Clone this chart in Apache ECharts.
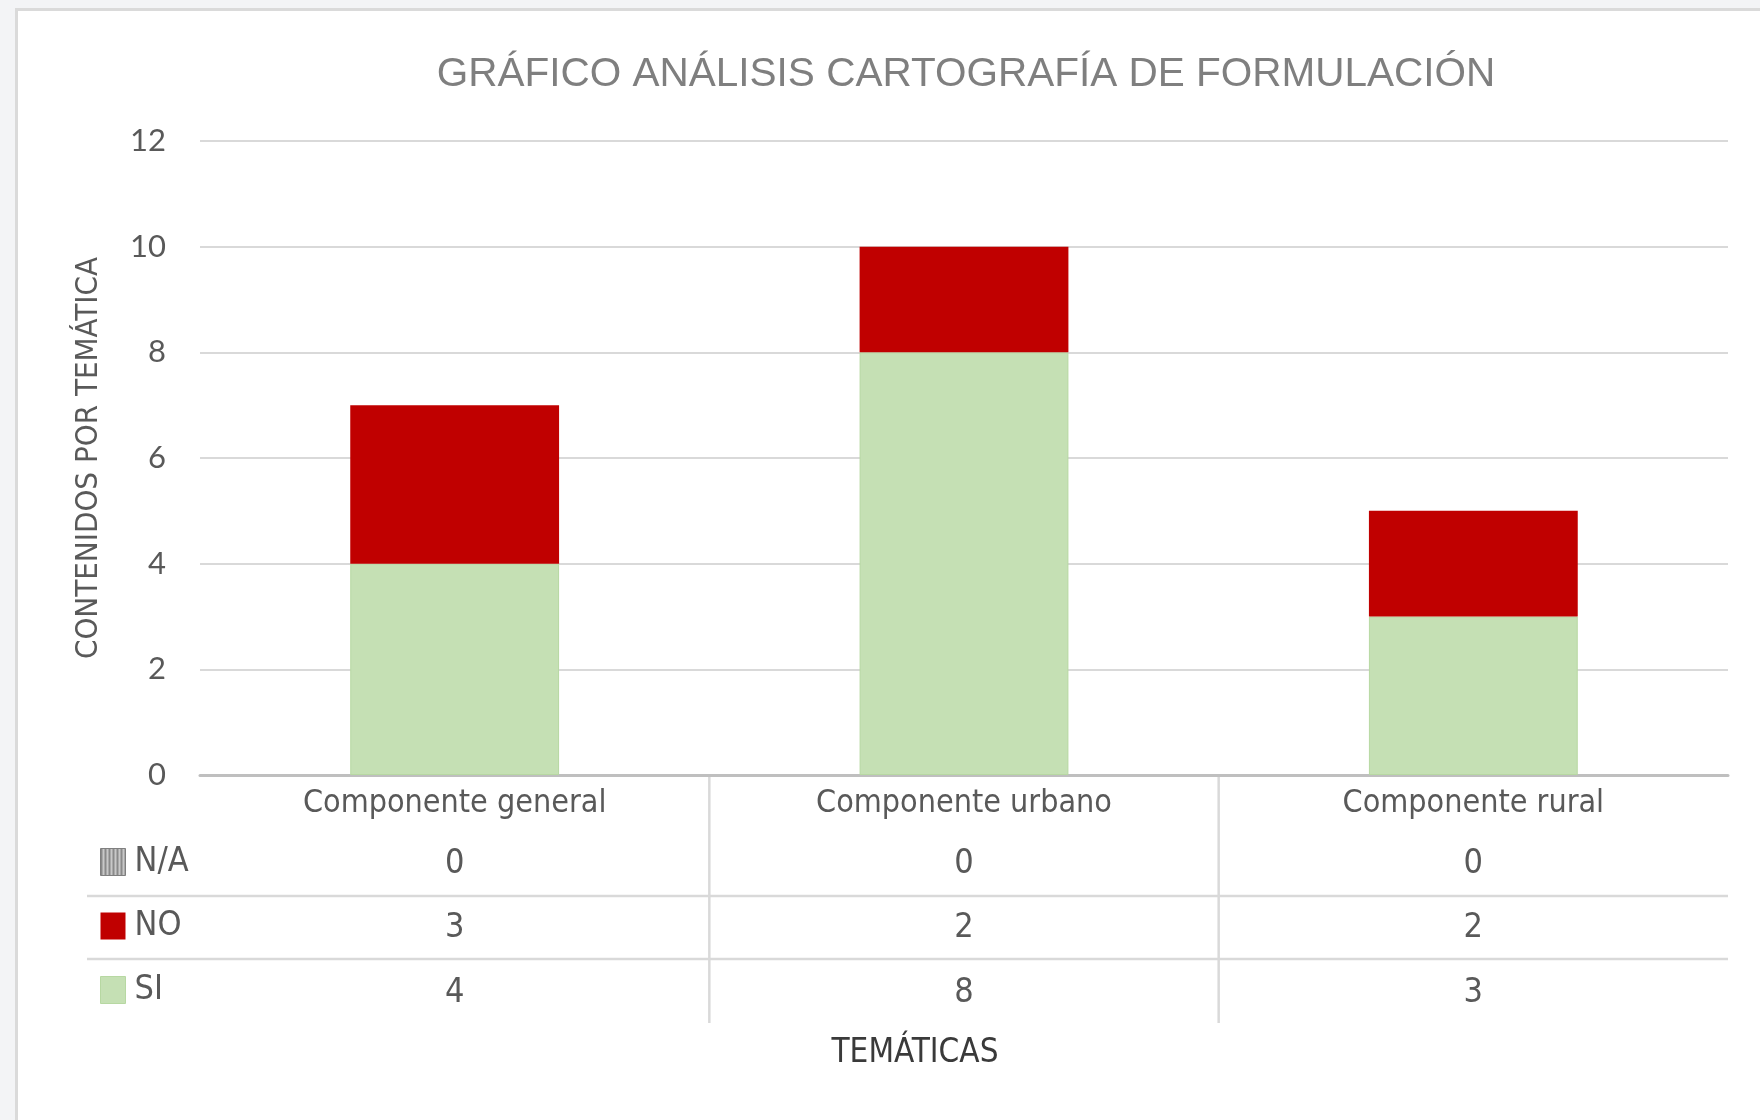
<!DOCTYPE html>
<html>
<head>
<meta charset="utf-8">
<script src="https://cdn.jsdelivr.net/npm/echarts@6/dist/echarts.min.js"></script>
<style>
  html, body { margin:0; padding:0; width:1760px; height:1120px; background:#f3f4f6; overflow:hidden; }
  #frame { position:absolute; left:15px; top:8px; width:1745px; height:1112px; background:#ffffff;
           border-left:3px solid #dadada; border-top:3px solid #dadada; box-sizing:border-box; }
  #chart { position:absolute; left:0; top:0; width:1760px; height:1120px; }
</style>
</head>
<body>
<div id="frame"></div>
<div id="chart"></div>
<script>
// ---- data ----
const titleText = 'GRÁFICO ANÁLISIS CARTOGRAFÍA DE FORMULACIÓN';
const yAxisTitle = 'CONTENIDOS POR TEMÁTICA';
const xAxisTitle = 'TEMÁTICAS';
const categories = ['Componente general', 'Componente urbano', 'Componente rural'];
const seriesNames = ['N/A', 'NO', 'SI'];
const naValues = [0, 0, 0];
const noValues = [3, 2, 2];
const siValues = [4, 8, 3];
const yMin = 0, yMax = 12, yInterval = 2;

// ---- styling ----
const NARROW = "'Liberation Sans Narrow', 'DejaVu Sans Condensed', 'Roboto Condensed', sans-serif";
const TXT = '#595959';

// striped pattern for N/A
const pat = document.createElement('canvas');
pat.width = 4; pat.height = 4;
const pctx = pat.getContext('2d');
pctx.fillStyle = '#c8c8c8'; pctx.fillRect(0, 0, 4, 4);
pctx.fillStyle = '#8a8a8a'; pctx.fillRect(0, 0, 2, 4);

const chart = echarts.init(document.getElementById('chart'), null, { renderer: 'canvas' });

const tableData = categories.map((c, i) => [i, naValues[i], noValues[i], siValues[i]]);

const option = {
  animation: false,
  backgroundColor: 'transparent',
  title: {
    text: titleText,
    left: 961,
    textAlign: 'center',
    top: 49,
    textStyle: { fontFamily: "'Liberation Sans', Arial, sans-serif", fontSize: 40.5, fontWeight: 'normal', color: '#7f7f7f' }
  },
  legend: {
    data: [
      { name: seriesNames[0], itemStyle: { borderColor: '#7f7f7f', borderWidth: 1 } },
      { name: seriesNames[1] },
      { name: seriesNames[2], itemStyle: { borderColor: '#b7d8a2', borderWidth: 1 } }
    ],
    orient: 'vertical',
    icon: 'rect',
    left: 100,
    top: 845,
    itemWidth: 25,
    itemHeight: 27,
    itemGap: 30,
    padding: 0,
    selectedMode: false,
    textStyle: { fontFamily: NARROW, fontSize: 34, color: TXT, padding: [0, 0, 0, 4] }
  },
  grid: { left: 200, right: 32, top: 141, bottom: 345, containLabel: false },
  xAxis: {
    type: 'category',
    data: categories,
    axisLine: { lineStyle: { color: '#bfbfbf', width: 3 } },
    axisTick: { show: false },
    axisLabel: { fontFamily: NARROW, fontSize: 32, color: TXT, margin: 13 },
    name: xAxisTitle,
    nameLocation: 'middle',
    nameGap: 262,
    nameTextStyle: { fontFamily: NARROW, fontSize: 33, color: '#3a3a3a', padding: [0, 98, 0, 0] }
  },
  yAxis: {
    type: 'value',
    min: yMin, max: yMax, interval: yInterval,
    axisLine: { show: false },
    axisTick: { show: false },
    splitLine: { lineStyle: { color: '#d9d9d9', width: 2 } },
    axisLabel: { fontFamily: "Lato, 'Open Sans', sans-serif", fontSize: 31, color: TXT, margin: 34 },
    name: yAxisTitle,
    nameLocation: 'middle',
    nameGap: 96,
    nameTextStyle: { fontFamily: NARROW, fontSize: 31, color: TXT }
  },
  series: [
    {
      name: 'SI', type: 'bar', stack: 'total', data: siValues, barWidth: '41%',
      itemStyle: { color: '#c5e0b4', borderColor: '#b7d8a2', borderWidth: 1 }
    },
    {
      name: 'NO', type: 'bar', stack: 'total', data: noValues, barWidth: '41%',
      itemStyle: { color: '#c00000' }
    },
    {
      name: 'N/A', type: 'bar', stack: 'total', data: naValues, barWidth: '41%',
      itemStyle: { color: { image: pat, repeat: 'repeat' }, borderWidth: 0 }
    },
    {
      type: 'custom',
      silent: true,
      clip: false,
      z: 5,
      data: tableData,
      encode: { x: 0, y: 1 },
      renderItem: function (params, api) {
        const i = api.value(0);
        const p = api.coord([i, 0]);
        const bw = api.size([1, 0])[0];
        const x0 = p[0] - bw / 2, x1 = p[0] + bw / 2, y0 = p[1];
        const vals = [api.value(1), api.value(2), api.value(3)];
        const rowY = [89, 153, 218];
        const children = [];
        const lineStyle = { stroke: '#d9d9d9', lineWidth: 2.5 };
        const hx0 = i === 0 ? x0 - 113 : x0;
        children.push({ type: 'line', shape: { x1: hx0, y1: y0 + 121, x2: x1, y2: y0 + 121 }, style: lineStyle });
        children.push({ type: 'line', shape: { x1: hx0, y1: y0 + 184, x2: x1, y2: y0 + 184 }, style: lineStyle });
        if (i > 0) {
          children.push({ type: 'line', shape: { x1: x0, y1: y0 + 2, x2: x0, y2: y0 + 248 }, style: lineStyle });
        }
        vals.forEach(function (v, k) {
          children.push({
            type: 'text',
            style: {
              text: String(v), x: p[0], y: y0 + rowY[k],
              align: 'center', verticalAlign: 'middle',
              fontFamily: NARROW, fontSize: 34, fill: TXT
            }
          });
        });
        return { type: 'group', children: children };
      }
    }
  ]
};
chart.setOption(option);
</script>
</body>
</html>
